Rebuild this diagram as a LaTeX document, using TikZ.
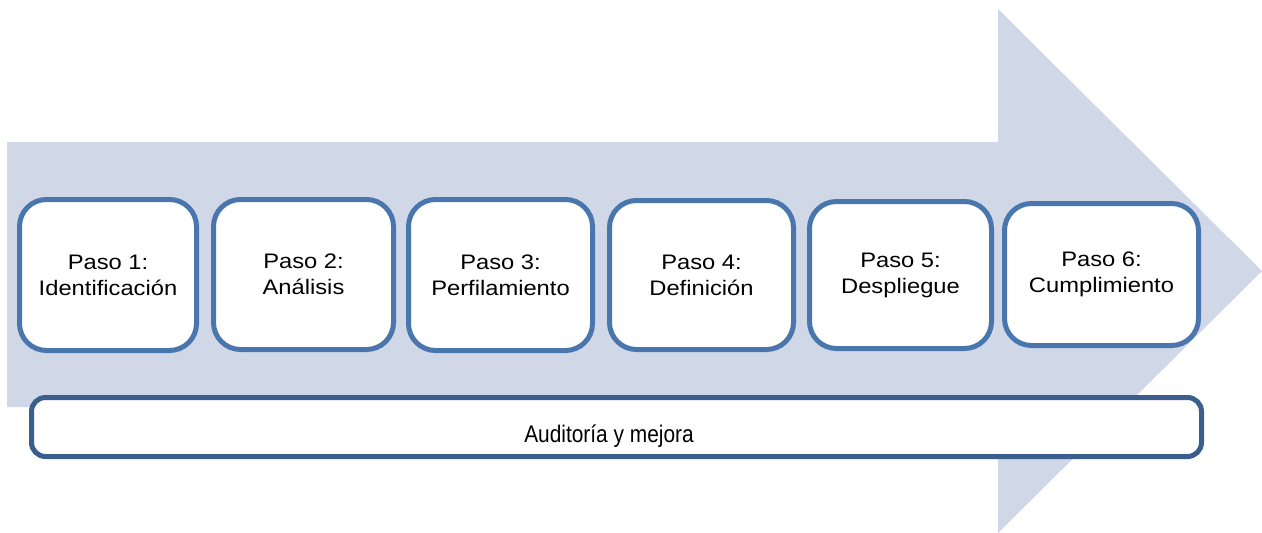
\documentclass[tikz,border=0pt]{standalone}
\usepackage{fontspec}
\setmainfont{Liberation Sans}
\usepackage{graphicx}
\definecolor{arrowfill}{HTML}{D0D8E8}
\definecolor{boxline}{HTML}{4A76AE}
\definecolor{barline}{HTML}{3B5E8C}
\tikzset{
  stepbox/.style={draw=boxline, line width=5pt, fill=white, rounded corners=27pt,
    align=center, inner sep=0pt, font=\fontsize{21}{26}\selectfont},
  barbox/.style={draw=barline, line width=5pt, fill=white, rounded corners=14pt,
    inner sep=0pt},
  bartext/.style={inner sep=0pt, font=\fontsize{24}{28}\selectfont},
  bigarrow/.style={fill=arrowfill, draw=none}
}
\newcommand{\wide}[1]{\scalebox{1.13}[1]{#1}}
\begin{document}
\begin{tikzpicture}[x=1pt,y=-1pt]
\useasboundingbox (0,0) rectangle (1262,533);
\fill[bigarrow] (7,142) -- (998,142) -- (998,9) -- (1262,271) -- (998,533) -- (998,407) -- (7,407) -- cycle;
\node[stepbox, minimum width=177pt, minimum height=151pt] (s1) at (108,275) {\wide{Paso 1:}\\\wide{Identificación}};
\node[stepbox, minimum width=180pt, minimum height=150pt] (s2) at (303.5,274.5) {\wide{Paso 2:}\\\wide{Análisis}};
\node[stepbox, minimum width=184pt, minimum height=151pt] (s3) at (500.5,275) {\wide{Paso 3:}\\\wide{Perfilamiento}};
\node[stepbox, minimum width=184pt, minimum height=149pt] (s4) at (701.5,275) {\wide{Paso 4:}\\\wide{Definición}};
\node[stepbox, minimum width=182pt, minimum height=147pt] (s5) at (900.5,275) {\wide{Paso 5:}\\\wide{Despliegue}};
\node[stepbox, minimum width=194pt, minimum height=142pt] (s6) at (1101.5,274.5) {\wide{Paso 6:}\\\wide{Cumplimiento}};
\node[barbox, minimum width=1170pt, minimum height=59pt] (bar) at (616.5,427) {};
\node[bartext, anchor=base] (bartxt) at (609,442) {\scalebox{0.87}[1]{Auditoría y mejora}};
\end{tikzpicture}
\end{document}
